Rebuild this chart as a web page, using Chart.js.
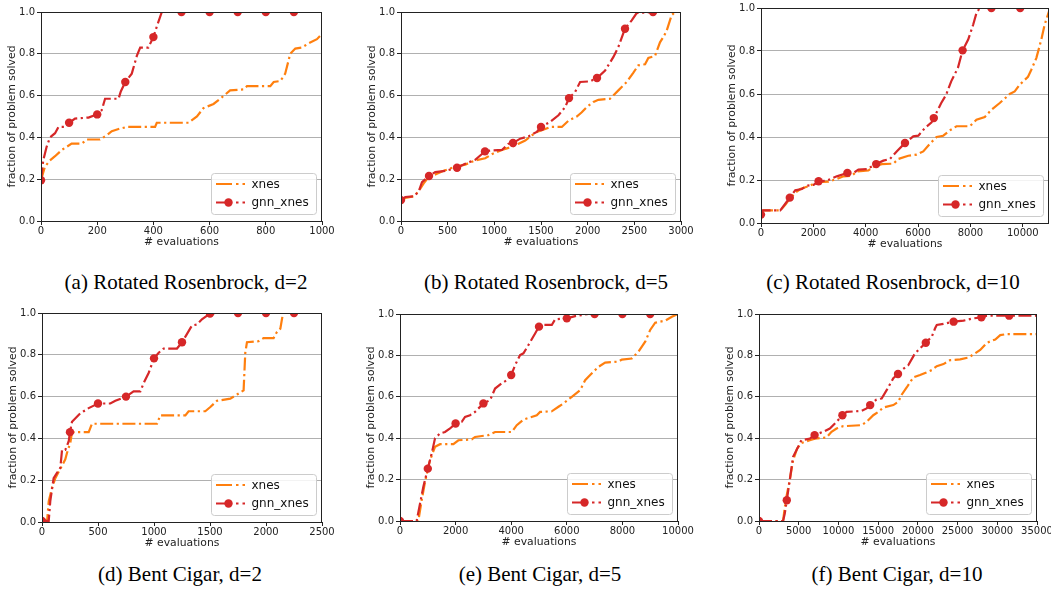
<!DOCTYPE html>
<html>
<head>
<meta charset="utf-8">
<script src="https://cdn.jsdelivr.net/npm/chart.js@4.4.1/dist/chart.umd.min.js"></script>
<style>
  html, body { margin: 0; padding: 0; background: #fff; overflow: hidden; }
  body { position: relative; width: 1051px; height: 594px; }
  canvas { position: absolute; }
  .cap {
    position: absolute; width: 400px; text-align: center;
    font: 21px "Liberation Serif", "Times New Roman", serif; color: #000; line-height: 1;
  }
</style>
</head>
<body>
<script>
// fraction of problems solved vs. number of evaluations, [evaluations, fraction]
const xnesA = [[0,0.195],[14,0.26],[32,0.29],[50,0.31],[74,0.34],[109,0.37],[145,0.37],[163,0.39],[210,0.39],[234,0.41],[252,0.43],[276,0.44],[305,0.45],[406,0.45],[412,0.47],[525,0.47],[555,0.50],[578,0.54],[614,0.56],[638,0.585],[673,0.625],[721,0.63],[733,0.645],[816,0.645],[828,0.665],[852,0.67],[869,0.705],[887,0.80],[905,0.825],[929,0.83],[952,0.85],[982,0.87],[1000,0.895]];
const gnnA = [[0,0.195],[8,0.29],[20,0.355],[32,0.40],[50,0.42],[62,0.45],[86,0.45],[100,0.47],[121,0.49],[169,0.495],[200,0.51],[216,0.53],[228,0.585],[276,0.585],[284,0.62],[300,0.665],[323,0.705],[341,0.79],[353,0.83],[382,0.83],[400,0.88],[412,0.93],[430,1.0],[500,1.0],[600,1.0],[700,1.0],[800,1.0],[900,1.0],[1000,1.0]];

const xnesB = [[0,0.10],[46,0.11],[136,0.118],[171,0.134],[207,0.155],[243,0.18],[296,0.21],[385,0.226],[457,0.24],[581,0.26],[688,0.27],[795,0.29],[902,0.30],[974,0.32],[1081,0.34],[1188,0.355],[1259,0.37],[1331,0.385],[1402,0.41],[1455,0.426],[1545,0.44],[1598,0.45],[1723,0.45],[1794,0.48],[1883,0.50],[1937,0.52],[1990,0.545],[2062,0.57],[2115,0.58],[2240,0.585],[2329,0.625],[2418,0.665],[2490,0.71],[2543,0.745],[2615,0.75],[2650,0.78],[2722,0.79],[2775,0.855],[2811,0.88],[2846,0.91],[2900,0.985],[2936,1.0],[3000,1.0]];
const gnnB = [[0,0.10],[46,0.115],[136,0.118],[189,0.14],[225,0.186],[300,0.215],[367,0.234],[474,0.24],[600,0.255],[688,0.274],[795,0.293],[900,0.333],[974,0.338],[1081,0.34],[1152,0.37],[1200,0.373],[1277,0.394],[1366,0.405],[1455,0.426],[1500,0.45],[1598,0.474],[1687,0.506],[1759,0.545],[1800,0.588],[1865,0.617],[1919,0.665],[2026,0.668],[2100,0.684],[2187,0.72],[2276,0.785],[2329,0.833],[2400,0.92],[2472,0.96],[2525,0.995],[2700,1.0],[3000,1.0]];

const xnesC = [[0,0.047],[102,0.059],[737,0.059],[927,0.085],[1118,0.116],[1308,0.14],[1499,0.158],[1880,0.174],[2134,0.19],[2578,0.192],[2896,0.205],[3150,0.217],[3467,0.22],[3658,0.24],[4102,0.245],[4356,0.264],[4610,0.274],[5055,0.276],[5245,0.298],[5626,0.313],[5944,0.318],[6198,0.333],[6452,0.369],[6706,0.40],[6960,0.406],[7214,0.431],[7468,0.45],[7976,0.45],[8230,0.48],[8547,0.493],[8801,0.527],[9119,0.558],[9500,0.60],[9690,0.612],[9881,0.643],[10198,0.68],[10325,0.713],[10516,0.767],[10706,0.853],[10833,0.922],[11000,0.985]];
const gnnC = [[0,0.039],[38,0.059],[737,0.059],[991,0.10],[1100,0.118],[1308,0.152],[1562,0.158],[1753,0.174],[2007,0.177],[2200,0.194],[2515,0.197],[2896,0.217],[3300,0.233],[3531,0.233],[3722,0.248],[4039,0.251],[4400,0.274],[4674,0.29],[4928,0.298],[5182,0.333],[5500,0.372],[5817,0.403],[6008,0.406],[6262,0.442],[6516,0.468],[6600,0.488],[6884,0.558],[7074,0.597],[7265,0.659],[7519,0.721],[7700,0.803],[7913,0.853],[8103,0.922],[8230,0.977],[8357,1.0],[8800,1.0],[9900,1.0],[11000,1.0]];

const xnesD = [[0,0],[45,0],[60,0.099],[89,0.163],[119,0.21],[149,0.24],[179,0.27],[208,0.30],[223,0.33],[253,0.38],[268,0.43],[417,0.43],[446,0.47],[1027,0.47],[1056,0.51],[1280,0.51],[1309,0.53],[1458,0.53],[1503,0.55],[1562,0.58],[1681,0.59],[1741,0.61],[1800,0.63],[1815,0.81],[1830,0.86],[1934,0.865],[1979,0.88],[2068,0.88],[2098,0.91],[2128,0.925],[2152,1.0],[2500,1.0]];
const gnnD = [[0,0.005],[60,0.005],[74,0.10],[104,0.21],[134,0.235],[164,0.26],[179,0.345],[208,0.345],[238,0.385],[250,0.43],[268,0.48],[342,0.52],[372,0.53],[417,0.545],[500,0.567],[610,0.567],[655,0.58],[750,0.60],[818,0.625],[878,0.625],[908,0.665],[952,0.713],[1000,0.783],[1042,0.81],[1086,0.83],[1205,0.83],[1250,0.86],[1295,0.90],[1339,0.94],[1384,0.945],[1428,0.97],[1500,0.997],[1562,1.0],[1750,1.0],[2000,1.0],[2250,1.0],[2500,1.0]];

const xnesE = [[0,0],[660,0],[780,0.10],[900,0.189],[1080,0.294],[1260,0.358],[1440,0.371],[1920,0.371],[2100,0.39],[2580,0.394],[2700,0.406],[3180,0.415],[3420,0.43],[4020,0.43],[4200,0.463],[4440,0.49],[4920,0.511],[5040,0.527],[5460,0.53],[5700,0.552],[5880,0.568],[6180,0.60],[6480,0.632],[6660,0.68],[6840,0.705],[7140,0.745],[7380,0.765],[7860,0.77],[7980,0.78],[8340,0.785],[8580,0.818],[8820,0.866],[9000,0.923],[9180,0.958],[9540,0.968],[9780,0.987],[10000,1.0]];
const gnnE = [[0,0],[600,0],[720,0.084],[840,0.165],[1000,0.253],[1140,0.326],[1260,0.40],[1440,0.423],[1620,0.43],[1800,0.447],[2000,0.471],[2220,0.479],[2340,0.503],[2520,0.511],[2700,0.527],[3000,0.568],[3240,0.584],[3420,0.64],[3660,0.665],[3840,0.68],[4000,0.705],[4140,0.753],[4320,0.802],[4440,0.81],[4620,0.85],[4860,0.906],[5000,0.939],[5100,0.947],[5460,0.947],[5580,0.974],[6000,0.979],[6300,0.99],[6780,1.0],[7000,1.0],[8000,1.0],[9000,1.0],[10000,1.0]];

const xnesF = [[0,0],[3029,0],[3366,0.10],[3870,0.197],[4291,0.294],[4796,0.35],[5343,0.377],[6395,0.39],[7026,0.398],[8498,0.403],[9129,0.431],[9760,0.447],[10602,0.458],[12915,0.463],[13547,0.479],[14388,0.511],[15019,0.527],[15650,0.548],[16912,0.56],[17543,0.576],[17964,0.61],[18595,0.645],[19436,0.694],[20278,0.705],[20909,0.715],[21750,0.729],[22381,0.748],[23223,0.758],[24064,0.777],[25326,0.781],[26378,0.79],[27219,0.81],[27850,0.826],[28692,0.861],[29743,0.877],[30375,0.898],[31216,0.903],[35000,0.903]];
const gnnF = [[0,0],[3029,0],[3240,0.035],[3500,0.10],[3870,0.197],[4291,0.31],[4922,0.358],[5343,0.39],[6395,0.398],[7000,0.415],[8077,0.431],[8919,0.447],[9760,0.479],[10500,0.511],[11022,0.527],[12915,0.532],[13547,0.544],[14000,0.56],[14786,0.587],[15440,0.592],[16071,0.632],[16912,0.69],[17500,0.71],[17964,0.729],[18805,0.753],[19647,0.81],[20488,0.842],[21000,0.861],[21750,0.89],[22171,0.931],[22381,0.947],[23223,0.952],[24500,0.963],[25747,0.968],[27009,0.979],[28000,0.984],[28692,0.992],[31500,0.992],[35000,0.992]];

// tick labels
const yTicks = [0, 0.2, 0.4, 0.6, 0.8, 1.0];
const xTicksA = [0, 200, 400, 600, 800, 1000];
const xTicksB = [0, 500, 1000, 1500, 2000, 2500, 3000];
const xTicksC = [0, 2000, 4000, 6000, 8000, 10000];
const xTicksD = [0, 500, 1000, 1500, 2000, 2500];
const xTicksE = [0, 2000, 4000, 6000, 8000, 10000];
const xTicksF = [0, 5000, 10000, 15000, 20000, 25000, 30000, 35000];

const seriesNames = ['xnes', 'gnn_xnes'];
const captions = [
  '(a) Rotated Rosenbrock, d=2', '(b) Rotated Rosenbrock, d=5', '(c) Rotated Rosenbrock, d=10',
  '(d) Bent Cigar, d=2', '(e) Bent Cigar, d=5', '(f) Bent Cigar, d=10'
];

const ORANGE = '#ff7f0e';
const RED = '#d62728';
const DASH = [13, 3.5, 2.2, 3.5];
const FONT = 'DejaVu Sans';
const X_AXIS_H = 29;

// plot rectangle [left, top, right, bottom] in page pixels, caption centre / top
const panels = [
  { xnes: xnesA, gnn: gnnA, xMax: 1000,  xTicks: xTicksA, markStep: 100,  plot: [41, 12, 322, 221],   cap: [186, 272] },
  { xnes: xnesB, gnn: gnnB, xMax: 3000,  xTicks: xTicksB, markStep: 300,  plot: [401, 12, 681, 221],  cap: [546, 272] },
  { xnes: xnesC, gnn: gnnC, xMax: 11000, xTicks: xTicksC, markStep: 1100, plot: [761, 8, 1049, 223],  cap: [893, 272] },
  { xnes: xnesD, gnn: gnnD, xMax: 2500,  xTicks: xTicksD, markStep: 250,  plot: [42, 313, 322, 522],  cap: [180, 564] },
  { xnes: xnesE, gnn: gnnE, xMax: 10000, xTicks: xTicksE, markStep: 1000, plot: [400, 314, 678, 521], cap: [540, 564] },
  { xnes: xnesF, gnn: gnnF, xMax: 35000, xTicks: xTicksF, markStep: 3500, plot: [759, 314, 1037, 521], cap: [897, 564] }
];

// axes box and in-plot legend
const frameLegend = {
  id: 'frameLegend',
  afterDatasetsDraw(chart) {
    const { ctx, chartArea: a } = chart;
    ctx.save();
    ctx.setLineDash([]);
    ctx.strokeStyle = '#222';
    ctx.lineWidth = 1;
    ctx.strokeRect(a.left + 0.5, a.top + 0.5, a.right - a.left - 1, a.bottom - a.top);

    const w = 105, h = 41;
    const bx = a.right - 6 - w, by = a.bottom - 7 - h;
    ctx.fillStyle = 'rgba(255,255,255,0.85)';
    ctx.strokeStyle = '#cccccc';
    ctx.beginPath();
    ctx.roundRect(bx + 0.5, by + 0.5, w, h, 3);
    ctx.fill();
    ctx.stroke();

    const rows = [
      { name: seriesNames[0], color: ORANGE, y: by + 11, mark: false },
      { name: seriesNames[1], color: RED, y: by + 29.5, mark: true }
    ];
    rows.forEach(r => {
      ctx.strokeStyle = r.color;
      ctx.lineWidth = 2.2;
      ctx.setLineDash([16, 4, 2.5, 4]);
      ctx.beginPath();
      ctx.moveTo(bx + 5, r.y);
      ctx.lineTo(bx + 34, r.y);
      ctx.stroke();
      ctx.setLineDash([]);
      if (r.mark) {
        ctx.fillStyle = r.color;
        ctx.beginPath();
        ctx.arc(bx + 17.5, r.y, 4.2, 0, Math.PI * 2);
        ctx.fill();
      }
      ctx.fillStyle = '#111';
      ctx.font = '12px "' + FONT + '"';
      ctx.textBaseline = 'middle';
      ctx.textAlign = 'left';
      ctx.fillText(r.name, bx + 40.5, r.y + 0.5);
    });
    ctx.restore();
  }
};

panels.forEach((p, i) => {
  const [L, T, R, B] = p.plot;
  const canvas = document.createElement('canvas');
  const cw = (R - L) + 41 + 16;
  const ch = (B - T) + 8 + X_AXIS_H;
  canvas.width = cw;
  canvas.height = ch;
  canvas.style.left = (L - 41) + 'px';
  canvas.style.top = (T - 8) + 'px';
  document.body.appendChild(canvas);

  const cap = document.createElement('div');
  cap.className = 'cap';
  cap.textContent = captions[i];
  cap.style.left = (p.cap[0] - 200) + 'px';
  cap.style.top = p.cap[1] + 'px';
  document.body.appendChild(cap);

  const isMark = x => x % p.markStep === 0 && x < p.xMax;

  new Chart(canvas.getContext('2d'), {
    type: 'line',
    data: {
      datasets: [
        {
          label: seriesNames[0],
          data: p.xnes.map(([x, y]) => ({ x, y })),
          borderColor: ORANGE,
          borderWidth: 2.2,
          borderDash: DASH,
          pointRadius: 0,
          tension: 0,
          fill: false,
          order: 2
        },
        {
          label: seriesNames[1],
          data: p.gnn.map(([x, y]) => ({ x, y })),
          borderColor: RED,
          borderWidth: 2.2,
          borderDash: DASH,
          pointRadius: ctx => (ctx.raw && isMark(ctx.raw.x) ? 4.2 : 0),
          pointBackgroundColor: RED,
          pointBorderColor: RED,
          pointBorderWidth: 0,
          tension: 0,
          fill: false,
          order: 1
        }
      ]
    },
    options: {
      responsive: false,
      animation: false,
      events: [],
      layout: { padding: { left: 0, top: 8, right: 16, bottom: 0 } },
      plugins: { legend: { display: false }, tooltip: { enabled: false } },
      scales: {
        x: {
          type: 'linear',
          min: 0,
          max: p.xMax,
          afterBuildTicks: s => { s.ticks = p.xTicks.map(v => ({ value: v })); },
          afterFit: s => { s.height = X_AXIS_H; s.paddingLeft = 0; s.paddingRight = 0; },
          grid: { display: true, drawOnChartArea: false, drawTicks: true, tickLength: 4, tickColor: '#222' },
          border: { display: false },
          ticks: {
            autoSkip: false, maxRotation: 0, padding: 0, color: '#222',
            font: { family: FONT, size: 10 },
            callback: v => String(v)
          },
          title: {
            display: true, text: '# evaluations', color: '#222',
            font: { family: FONT, size: 10.8 }, padding: { top: 0, bottom: 1 }
          }
        },
        y: {
          min: 0,
          max: 1,
          afterBuildTicks: s => { s.ticks = yTicks.map(v => ({ value: v })); },
          afterFit: s => { s.width = 41; s.paddingTop = 0; s.paddingBottom = 0; },
          grid: { color: '#b0b0b0', lineWidth: 1, tickColor: '#222', tickLength: 4 },
          border: { display: false },
          ticks: {
            padding: 2, color: '#222',
            font: { family: FONT, size: 10 },
            callback: v => Number(v).toFixed(1)
          },
          title: {
            display: true, text: 'fraction of problem solved', color: '#222',
            font: { family: FONT, size: 10.8 }, padding: { top: 6, bottom: 0 }
          }
        }
      }
    },
    plugins: [frameLegend]
  });
});
</script>
</body>
</html>
